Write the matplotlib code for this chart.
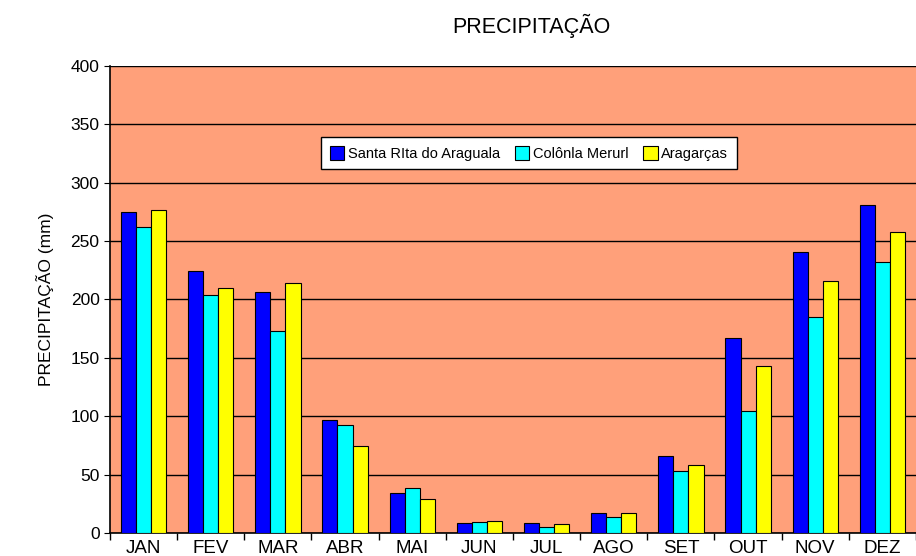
import numpy as np
import matplotlib.pyplot as plt

plt.rcParams['font.family'] = ['Liberation Sans', 'DejaVu Sans']

meses = ['JAN', 'FEV', 'MAR', 'ABR', 'MAI', 'JUN', 'JUL', 'AGO', 'SET', 'OUT', 'NOV', 'DEZ']
santa_rita = [275, 224, 206, 97, 34, 8.5, 8.5, 17, 66, 167, 241, 281]
colonia = [262, 204, 173, 92.5, 38.5, 9.5, 5, 13.5, 53, 104.5, 185, 232]
aragarcas = [277, 210, 214, 74.5, 29, 10, 7.5, 17, 58, 143, 216, 258]

series = [
    ('Santa RIta do Araguala', santa_rita, '#0000ff'),
    ('Colônla Merurl', colonia, '#00ffff'),
    ('Aragarças', aragarcas, '#ffff00'),
]

fig = plt.figure(figsize=(9.16, 5.56), dpi=100)
ax = fig.add_axes([0.12, 0.0414, 0.88, 0.84])
ax.set_facecolor('#ffa07a')

x = np.arange(len(meses))
w = 0.225
for i, (nome, vals, cor) in enumerate(series):
    ax.bar(x + (i - 1) * w, vals, w, color=cor, edgecolor='black', linewidth=0.8,
           label=nome, zorder=3)

ax.set_ylim(0, 400)
ax.set_xlim(-0.5, len(meses) - 0.5)
ax.set_yticks(np.arange(0, 401, 50))
ax.yaxis.grid(True, color='black', linewidth=1, zorder=1)
ax.set_axisbelow(True)

ax.set_xticks(x)
ax.set_xticklabels(meses, fontsize=13.5)
ax.set_xticks(np.arange(-0.5, len(meses), 1), minor=True)
ax.tick_params(axis='x', which='major', length=0, pad=5)
ax.tick_params(axis='x', which='minor', length=5, direction='out', width=1)
ax.tick_params(axis='y', labelsize=12.5, length=4, direction='out')

for s in ['top', 'right']:
    ax.spines[s].set_visible(False)
ax.spines['left'].set_linewidth(1.2)
ax.spines['bottom'].set_linewidth(1.2)

ax.set_ylabel('PRECIPITAÇÃO (mm)', fontsize=12.5, labelpad=12)
fig.text(0.58, 0.953, 'PRECIPITAÇÃO', ha='center', va='center', fontsize=15.5)

leg = ax.legend(loc='upper center', bbox_to_anchor=(0.52, 0.848), ncol=3, fontsize=10.5,
                frameon=True, fancybox=False, edgecolor='black', framealpha=1,
                handlelength=1.0, handleheight=1.1, handletextpad=0.25, columnspacing=1.0,
                borderpad=0.6, borderaxespad=0)
leg.get_frame().set_linewidth(1)

fig.savefig('out.png', dpi=100)
